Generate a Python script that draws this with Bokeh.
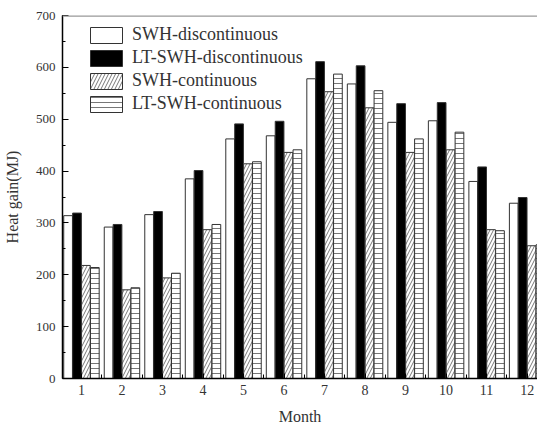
from bokeh.plotting import figure
from bokeh.models import ColumnDataSource, Range1d, FixedTicker, SingleIntervalTicker, Legend, LegendItem, Span
from bokeh.transform import dodge
from bokeh.embed import file_html
from bokeh.resources import INLINE

months = [1, 2, 3, 4, 5, 6, 7, 8, 9, 10, 11, 12]
swh_discontinuous = [314, 292, 316, 385, 462, 468, 578, 568, 494, 497, 380, 338]
lt_swh_discontinuous = [319, 297, 322, 401, 491, 496, 611, 603, 530, 532, 408, 349]
swh_continuous = [218, 171, 194, 287, 414, 436, 553, 522, 436, 441, 287, 256]
lt_swh_continuous = [214, 175, 203, 297, 418, 441, 587, 555, 462, 475, 285, 258]
series_names = ["SWH-discontinuous", "LT-SWH-discontinuous", "SWH-continuous", "LT-SWH-continuous"]

src = ColumnDataSource(dict(month=months, a=swh_discontinuous, b=lt_swh_discontinuous,
                            c=swh_continuous, d=lt_swh_continuous))

FONT = "Liberation Serif"

p = figure(width=537, height=431, output_backend="svg", toolbar_location=None,
           x_range=Range1d(0.532, 12.256), y_range=Range1d(0, 700),
           min_border_left=61, min_border_right=0, min_border_top=15, min_border_bottom=53)
p.background_fill_color = "white"
p.border_fill_color = "white"
p.grid.visible = False
p.outline_line_color = None
p.add_layout(Span(location=700, dimension="width", line_color="#999999", line_width=2.5))

w = 0.215
kw = dict(line_color="#333333", line_width=1)
r1 = p.vbar(x=dodge("month", -0.33), top="a", width=w, source=src, fill_color="white", **kw)
r2 = p.vbar(x=dodge("month", -0.11), top="b", width=w, source=src, fill_color="black", **kw)
r3 = p.vbar(x=dodge("month", 0.11), top="c", width=w, source=src, fill_color="white",
            hatch_pattern="/", hatch_scale=7, hatch_color="#777777", hatch_weight=1, **kw)
r4 = p.vbar(x=dodge("month", 0.33), top="d", width=w, source=src, fill_color="white",
            hatch_pattern="-", hatch_scale=5, hatch_color="#777777", hatch_weight=1, **kw)

legend = Legend(items=[LegendItem(label=series_names[0], renderers=[r1]),
                       LegendItem(label=series_names[1], renderers=[r2]),
                       LegendItem(label=series_names[2], renderers=[r3]),
                       LegendItem(label=series_names[3], renderers=[r4])],
                location=(24, 264))
legend.border_line_color = None
legend.background_fill_alpha = 0
legend.padding = 0
legend.spacing = 2
legend.glyph_width = 40
legend.glyph_height = 20
legend.label_height = 20
legend.label_standoff = 6
legend.label_text_font = FONT
legend.label_text_font_size = "18px"
legend.label_text_color = "#333333"
p.add_layout(legend, "center")

xa = p.xaxis[0]
xa.ticker = FixedTicker(ticks=months, minor_ticks=[m + 0.5 for m in months])
xa.axis_label = "Month"
xa.axis_label_text_font = FONT
xa.axis_label_text_font_style = "normal"
xa.axis_label_text_font_size = "16px"
xa.axis_label_text_color = "#333333"
xa.axis_label_standoff = 10
xa.major_label_text_font = FONT
xa.major_label_text_font_size = "14px"
xa.major_label_text_color = "#333333"
xa.major_label_standoff = 6
xa.major_tick_in = 5
xa.major_tick_out = 0
xa.minor_tick_in = 4
xa.minor_tick_out = 0
xa.axis_line_color = "black"
xa.axis_line_width = 1.5

ya = p.yaxis[0]
ya.ticker = SingleIntervalTicker(interval=100, num_minor_ticks=2)
ya.axis_label = "Heat gain(MJ)"
ya.axis_label_text_font = FONT
ya.axis_label_text_font_style = "normal"
ya.axis_label_text_font_size = "16px"
ya.axis_label_text_color = "#333333"
ya.axis_label_standoff = 12
ya.major_label_text_font = FONT
ya.major_label_text_font_size = "13px"
ya.major_label_text_color = "#333333"
ya.major_label_standoff = 7
ya.major_tick_in = 6
ya.major_tick_out = 0
ya.minor_tick_in = 3
ya.minor_tick_out = 0
ya.axis_line_color = "black"
ya.axis_line_width = 1.5

open("out.html", "w").write(file_html(p, INLINE))
